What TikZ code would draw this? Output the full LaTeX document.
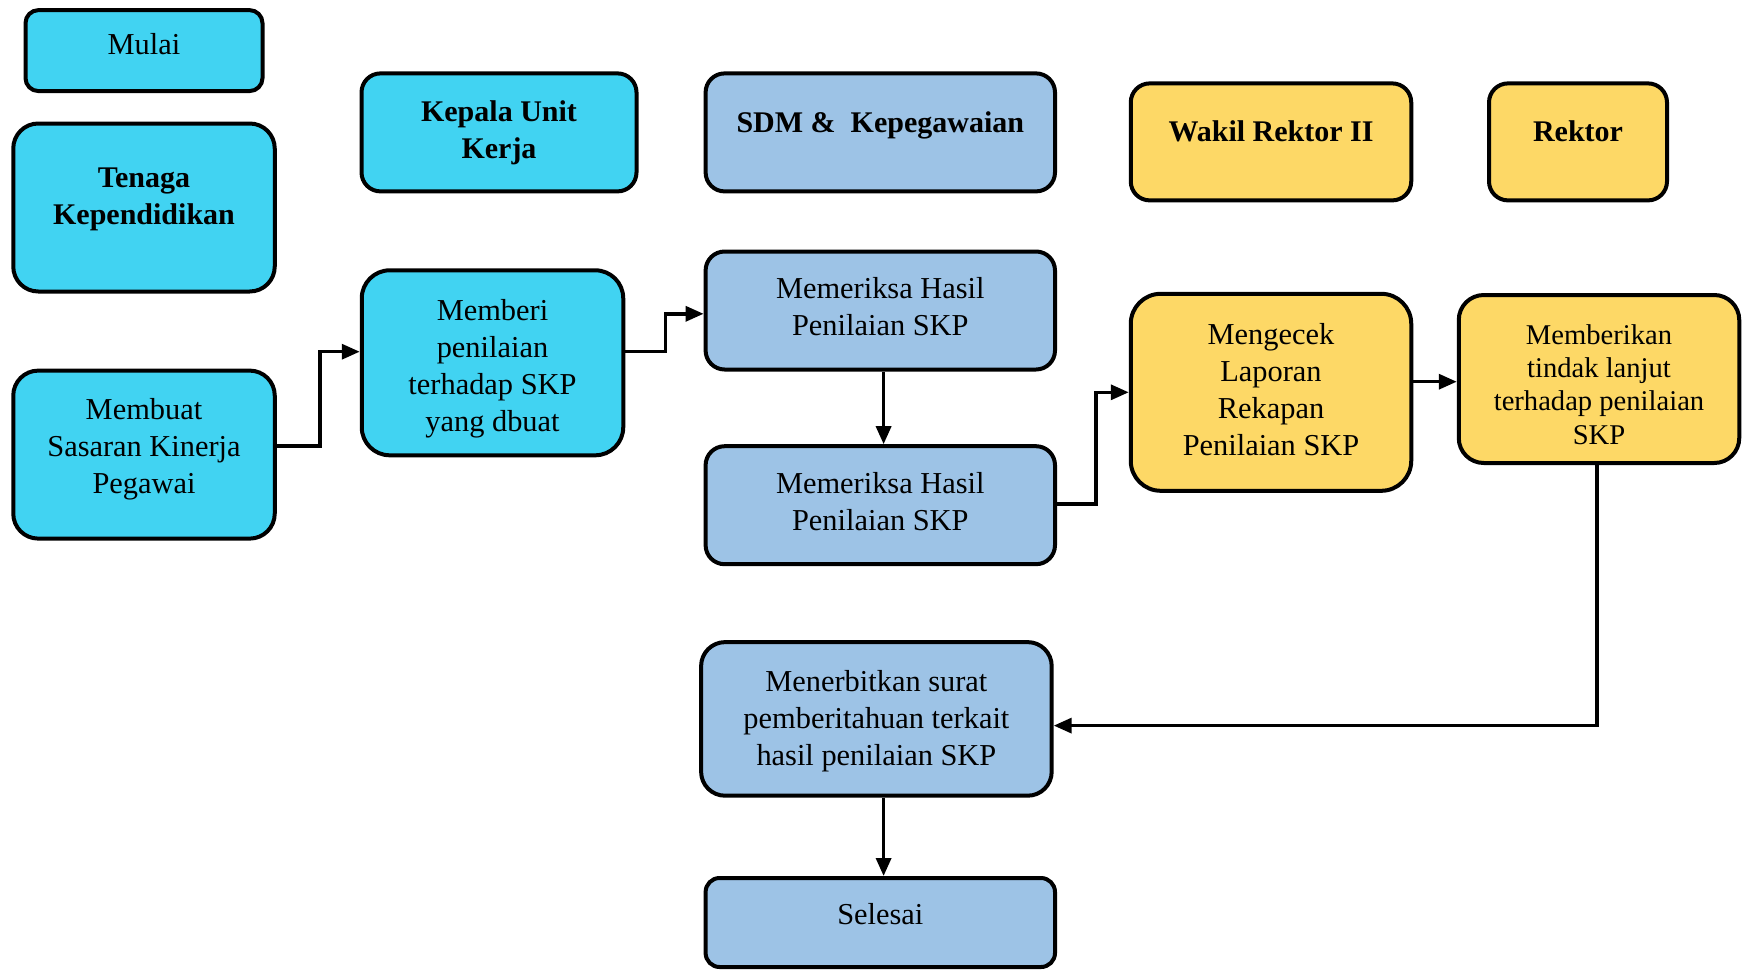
\documentclass[tikz,border=0pt]{standalone}
\usepackage{fontspec}
\setmainfont{Liberation Serif}
\usetikzlibrary{arrows.meta,calc}
\definecolor{cyanbox}{HTML}{41D3F2}
\definecolor{bluebox}{HTML}{9DC3E6}
\definecolor{yellowbox}{HTML}{FDD866}
\tikzset{
  box/.style n args={3}{draw=black, line width=2pt, rounded corners=#3*0.5pt,
    minimum width=#1*0.5pt, minimum height=#2*0.5pt, inner sep=0pt},
  cbox/.style={fill=cyanbox},
  bbox/.style={fill=bluebox},
  ybox/.style={fill=yellowbox},
  txt/.style={align=center, inner sep=0pt, font=\fontsize{15.2}{18.5}\selectfont},
  btxt/.style={align=center, inner sep=0pt, font=\fontsize{15}{18.5}\selectfont\bfseries},
  stxt/.style={align=center, inner sep=0pt, font=\fontsize{14.3}{16.7}\selectfont},
  arr/.style={line width=1.7pt, -{Triangle[length=9pt,width=7.5pt]}}
}
\begin{document}
\begin{tikzpicture}[x=0.5pt,y=-0.5pt]
\useasboundingbox (0,0) rectangle (1745,970);

% boxes
\node[box={237}{81}{13}, cbox] (mulai) at (144,50.6) {};
\node[box={261.5}{168}{25}, cbox] (tenaga) at (144,207.5) {};
\node[box={275}{118}{19}, cbox] (kepala) at (499,132.4) {};
\node[box={349.4}{118}{19}, bbox] (sdm) at (880.3,132.4) {};
\node[box={280.5}{117}{19}, ybox] (wakil) at (1271,141.9) {};
\node[box={178}{117}{19}, ybox] (rektor) at (1578,141.9) {};
\node[box={261.5}{168}{25}, cbox] (membuat) at (144,454.6) {};
\node[box={261.5}{185}{28}, cbox] (memberi) at (492.5,362.8) {};
\node[box={349.4}{118}{19}, bbox] (periksaA) at (880.3,310.5) {};
\node[box={349.4}{118}{19}, bbox] (periksaB) at (880.3,505.2) {};
\node[box={280.5}{197}{30}, ybox] (cek) at (1271,392.3) {};
\node[box={280.5}{168}{25}, ybox] (tindak) at (1599,379) {};
\node[box={350.6}{153.6}{24}, bbox] (terbit) at (876.4,718.9) {};
\node[box={349.4}{89}{14}, bbox] (selesai) at (880.3,922.5) {};

% texts
\node[txt] (t-mulai) at (144,44.5) {Mulai};
\node[btxt] (t-tenaga) at (144,199.8) {Tenaga\\Kependidikan};
\node[btxt] (t-kepala) at (499,133) {Kepala Unit\\Kerja};
\node[btxt] (t-sdm) at (880.3,125.7) {SDM \&\ \ Kepegawaian};
\node[btxt] (t-wakil) at (1271,131.3) {Wakil Rektor II};
\node[btxt] (t-rektor) at (1578,131.3) {Rektor};
\node[txt] (t-membuat) at (144,448.8) {Membuat\\Sasaran Kinerja\\Pegawai};
\node[txt] (t-memberi) at (492.5,368.3) {Memberi\\penilaian\\terhadap SKP\\yang dbuat};
\node[txt] (t-periksaA) at (880.3,306.6) {Memeriksa Hasil\\Penilaian SKP};
\node[txt] (t-periksaB) at (880.3,501.4) {Memeriksa Hasil\\Penilaian SKP};
\node[txt] (t-cek) at (1271,389.5) {Mengecek\\Laporan\\Rekapan\\Penilaian SKP};
\node[stxt] (t-tindak) at (1599,384.5) {Memberikan\\tindak lanjut\\terhadap penilaian\\SKP};
\node[txt] (t-terbit) at (876.4,721.1) {Menerbitkan surat\\pemberitahuan terkait\\hasil penilaian SKP};
\node[txt] (t-selesai) at (880.3,913.7) {Selesai};

% connectors
\draw[arr] ($(membuat.east)+(0,-8.6)$) -- ++(43.4,0) |- ($(memberi.west)+(0,-11.1)$);
\draw[arr] ($(memberi.east)+(0,-11.1)$) -- ++(40,0) |- ($(periksaA.west)+(0,3.3)$);
\draw[arr] ($(periksaA.south)+(3.3,0)$) -- ($(periksaB.north)+(3.3,0)$);
\draw[arr] ($(periksaB.east)+(0,-1.1)$) -- ++(39,0) |- (cek.west);
\draw[arr] ($(cek.east)+(0,-10.6)$) -- ($(tindak.west)+(0,2.7)$);
\draw[arr] ($(tindak.south)+(-2,0)$) |- ($(terbit.east)+(0,6.7)$);
\draw[arr] ($(terbit.south)+(7.2,0)$) -- ($(selesai.north)+(3.3,0)$);
\end{tikzpicture}
\end{document}
